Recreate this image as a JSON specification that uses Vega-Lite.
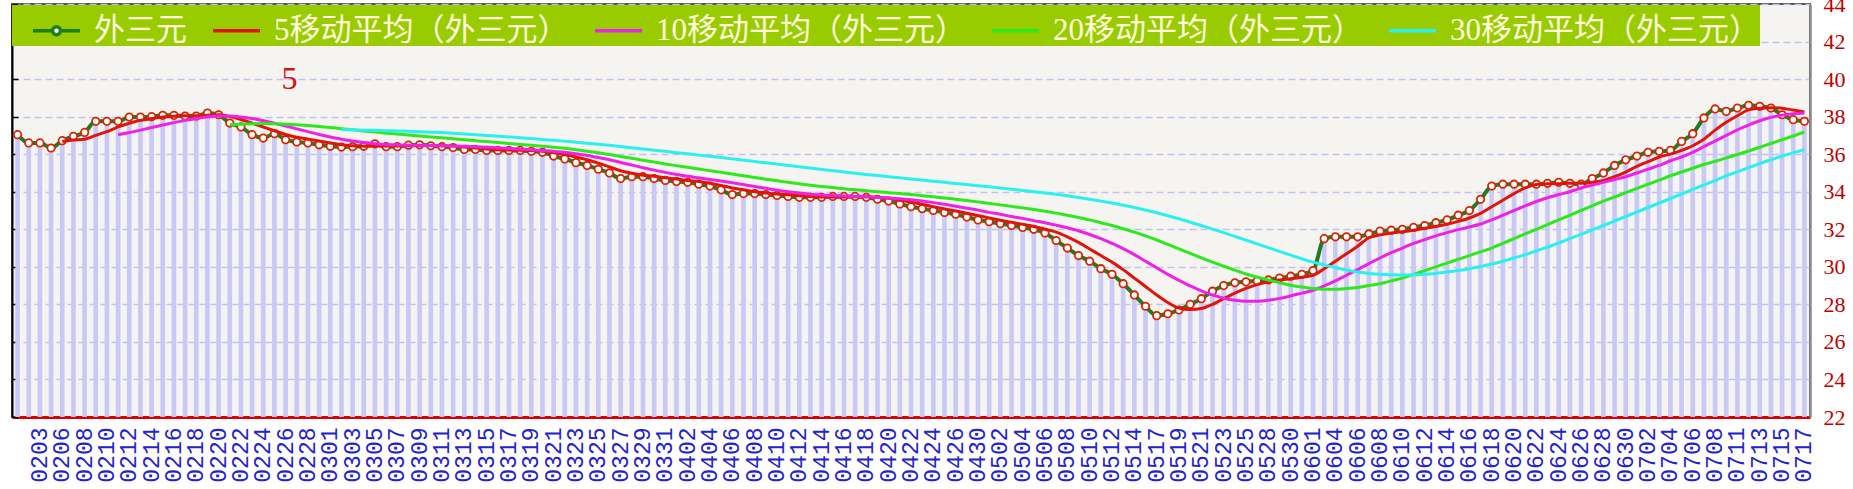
{
"$schema": "https://vega.github.io/schema/vega-lite/v6.json",
"width": 1798, "height": 413,
"autosize": {"type": "none"},
"padding": {"left": 12, "top": 4, "right": 43, "bottom": 72},
"background": "#ffffff",
"config": {"view": {"fill": "#f6f4f1", "stroke": "#555555", "strokeWidth": 2}},
"data": {"values": [
{"d":"0201","v":37.04},
{"d":"0202","v":36.6},
{"d":"0203","v":36.6},
{"d":"0205","v":36.33},
{"d":"0206","v":36.72,"m5":36.68},
{"d":"0207","v":36.95,"m5":36.75},
{"d":"0208","v":37.16,"m5":36.8},
{"d":"0209","v":37.75,"m5":37.0},
{"d":"0210","v":37.75,"m5":37.2},
{"d":"0211","v":37.75,"m5":37.45,"m10":37.04},
{"d":"0212","v":37.98,"m5":37.65,"m10":37.15},
{"d":"0213","v":37.98,"m5":37.8,"m10":37.28},
{"d":"0214","v":38.0,"m5":37.9,"m10":37.42},
{"d":"0215","v":38.07,"m5":37.98,"m10":37.55},
{"d":"0216","v":38.07,"m5":38.02,"m10":37.68},
{"d":"0217","v":38.03,"m5":38.05,"m10":37.8},
{"d":"0218","v":38.03,"m5":38.05,"m10":37.9},
{"d":"0219","v":38.19,"m5":38.08,"m10":37.98},
{"d":"0220","v":38.1,"m5":38.1,"m10":38.03},
{"d":"0221","v":37.66,"m5":38.0,"m10":38.03,"m20":37.57},
{"d":"0222","v":37.45,"m5":37.85,"m10":37.98,"m20":37.6},
{"d":"0223","v":37.04,"m5":37.65,"m10":37.9,"m20":37.62},
{"d":"0224","v":36.86,"m5":37.45,"m10":37.78,"m20":37.63},
{"d":"0225","v":37.09,"m5":37.25,"m10":37.65,"m20":37.62},
{"d":"0226","v":36.77,"m5":37.05,"m10":37.5,"m20":37.6},
{"d":"0227","v":36.65,"m5":36.9,"m10":37.35,"m20":37.57},
{"d":"0228","v":36.6,"m5":36.8,"m10":37.2,"m20":37.53},
{"d":"0229","v":36.5,"m5":36.7,"m10":37.05,"m20":37.48},
{"d":"0301","v":36.42,"m5":36.6,"m10":36.92,"m20":37.42},
{"d":"0302","v":36.38,"m5":36.5,"m10":36.8,"m20":37.36,"m30":37.31},
{"d":"0303","v":36.4,"m5":36.45,"m10":36.7,"m20":37.3,"m30":37.3},
{"d":"0304","v":36.42,"m5":36.42,"m10":36.62,"m20":37.24,"m30":37.28},
{"d":"0305","v":36.55,"m5":36.43,"m10":36.56,"m20":37.18,"m30":37.27},
{"d":"0306","v":36.4,"m5":36.43,"m10":36.52,"m20":37.12,"m30":37.25},
{"d":"0307","v":36.4,"m5":36.44,"m10":36.5,"m20":37.07,"m30":37.24},
{"d":"0308","v":36.48,"m5":36.45,"m10":36.48,"m20":37.02,"m30":37.22},
{"d":"0309","v":36.5,"m5":36.46,"m10":36.47,"m20":36.97,"m30":37.2},
{"d":"0310","v":36.45,"m5":36.46,"m10":36.46,"m20":36.92,"m30":37.17},
{"d":"0311","v":36.4,"m5":36.45,"m10":36.45,"m20":36.87,"m30":37.15},
{"d":"0312","v":36.35,"m5":36.43,"m10":36.44,"m20":36.82,"m30":37.12},
{"d":"0313","v":36.25,"m5":36.38,"m10":36.42,"m20":36.77,"m30":37.08},
{"d":"0314","v":36.25,"m5":36.33,"m10":36.4,"m20":36.72,"m30":37.04},
{"d":"0315","v":36.2,"m5":36.28,"m10":36.37,"m20":36.67,"m30":37.0},
{"d":"0316","v":36.2,"m5":36.24,"m10":36.33,"m20":36.62,"m30":36.96},
{"d":"0317","v":36.2,"m5":36.22,"m10":36.3,"m20":36.57,"m30":36.92},
{"d":"0318","v":36.2,"m5":36.21,"m10":36.27,"m20":36.52,"m30":36.88},
{"d":"0319","v":36.15,"m5":36.19,"m10":36.24,"m20":36.47,"m30":36.83},
{"d":"0320","v":36.1,"m5":36.15,"m10":36.2,"m20":36.42,"m30":36.78},
{"d":"0321","v":35.9,"m5":36.08,"m10":36.15,"m20":36.37,"m30":36.74},
{"d":"0322","v":35.75,"m5":35.98,"m10":36.1,"m20":36.31,"m30":36.69},
{"d":"0323","v":35.55,"m5":35.85,"m10":36.02,"m20":36.24,"m30":36.64},
{"d":"0324","v":35.4,"m5":35.7,"m10":35.93,"m20":36.16,"m30":36.58},
{"d":"0325","v":35.2,"m5":35.52,"m10":35.82,"m20":36.08,"m30":36.53},
{"d":"0326","v":35.0,"m5":35.32,"m10":35.7,"m20":35.98,"m30":36.47},
{"d":"0327","v":34.7,"m5":35.12,"m10":35.56,"m20":35.88,"m30":36.41},
{"d":"0328","v":34.8,"m5":34.98,"m10":35.42,"m20":35.78,"m30":36.34},
{"d":"0329","v":34.8,"m5":34.88,"m10":35.28,"m20":35.68,"m30":36.28},
{"d":"0330","v":34.7,"m5":34.82,"m10":35.15,"m20":35.58,"m30":36.21},
{"d":"0331","v":34.6,"m5":34.74,"m10":35.03,"m20":35.48,"m30":36.15},
{"d":"0401","v":34.55,"m5":34.68,"m10":34.92,"m20":35.39,"m30":36.08},
{"d":"0402","v":34.5,"m5":34.6,"m10":34.82,"m20":35.3,"m30":36.02},
{"d":"0403","v":34.4,"m5":34.55,"m10":34.74,"m20":35.21,"m30":35.95},
{"d":"0404","v":34.3,"m5":34.45,"m10":34.65,"m20":35.12,"m30":35.89},
{"d":"0405","v":34.1,"m5":34.33,"m10":34.57,"m20":35.03,"m30":35.82},
{"d":"0406","v":33.85,"m5":34.2,"m10":34.48,"m20":34.94,"m30":35.75},
{"d":"0407","v":33.9,"m5":34.1,"m10":34.38,"m20":34.85,"m30":35.68},
{"d":"0408","v":33.9,"m5":34.0,"m10":34.28,"m20":34.76,"m30":35.61},
{"d":"0409","v":33.85,"m5":33.93,"m10":34.18,"m20":34.67,"m30":35.54},
{"d":"0410","v":33.8,"m5":33.88,"m10":34.08,"m20":34.58,"m30":35.47},
{"d":"0411","v":33.75,"m5":33.84,"m10":34.0,"m20":34.5,"m30":35.4},
{"d":"0412","v":33.7,"m5":33.78,"m10":33.93,"m20":34.42,"m30":35.33},
{"d":"0413","v":33.7,"m5":33.74,"m10":33.87,"m20":34.35,"m30":35.26},
{"d":"0414","v":33.7,"m5":33.72,"m10":33.83,"m20":34.28,"m30":35.19},
{"d":"0415","v":33.75,"m5":33.72,"m10":33.8,"m20":34.22,"m30":35.12},
{"d":"0416","v":33.75,"m5":33.72,"m10":33.77,"m20":34.16,"m30":35.05},
{"d":"0417","v":33.75,"m5":33.73,"m10":33.75,"m20":34.1,"m30":34.98},
{"d":"0418","v":33.7,"m5":33.73,"m10":33.73,"m20":34.05,"m30":34.92},
{"d":"0419","v":33.6,"m5":33.7,"m10":33.7,"m20":34.0,"m30":34.86},
{"d":"0420","v":33.5,"m5":33.65,"m10":33.67,"m20":33.95,"m30":34.8},
{"d":"0421","v":33.35,"m5":33.55,"m10":33.63,"m20":33.9,"m30":34.74},
{"d":"0422","v":33.2,"m5":33.45,"m10":33.57,"m20":33.85,"m30":34.68},
{"d":"0423","v":33.1,"m5":33.33,"m10":33.5,"m20":33.79,"m30":34.62},
{"d":"0424","v":33.0,"m5":33.2,"m10":33.42,"m20":33.73,"m30":34.56},
{"d":"0425","v":32.9,"m5":33.08,"m10":33.33,"m20":33.67,"m30":34.5},
{"d":"0426","v":32.8,"m5":32.97,"m10":33.23,"m20":33.6,"m30":34.44},
{"d":"0428","v":32.65,"m5":32.85,"m10":33.12,"m20":33.53,"m30":34.38},
{"d":"0430","v":32.5,"m5":32.73,"m10":33.02,"m20":33.46,"m30":34.32},
{"d":"0501","v":32.4,"m5":32.6,"m10":32.9,"m20":33.38,"m30":34.26},
{"d":"0502","v":32.3,"m5":32.48,"m10":32.8,"m20":33.3,"m30":34.2},
{"d":"0503","v":32.2,"m5":32.37,"m10":32.68,"m20":33.22,"m30":34.13},
{"d":"0504","v":32.1,"m5":32.26,"m10":32.58,"m20":33.14,"m30":34.07},
{"d":"0505","v":32.0,"m5":32.15,"m10":32.46,"m20":33.05,"m30":34.0},
{"d":"0506","v":31.8,"m5":32.0,"m10":32.35,"m20":32.96,"m30":33.93},
{"d":"0507","v":31.4,"m5":31.85,"m10":32.22,"m20":32.86,"m30":33.86},
{"d":"0508","v":31.0,"m5":31.6,"m10":32.08,"m20":32.75,"m30":33.78},
{"d":"0509","v":30.6,"m5":31.3,"m10":31.92,"m20":32.63,"m30":33.69},
{"d":"0510","v":30.3,"m5":30.95,"m10":31.72,"m20":32.5,"m30":33.6},
{"d":"0511","v":29.9,"m5":30.6,"m10":31.5,"m20":32.35,"m30":33.5},
{"d":"0512","v":29.6,"m5":30.25,"m10":31.25,"m20":32.2,"m30":33.4},
{"d":"0513","v":29.1,"m5":29.85,"m10":30.97,"m20":32.03,"m30":33.28},
{"d":"0514","v":28.5,"m5":29.4,"m10":30.65,"m20":31.85,"m30":33.16},
{"d":"0515","v":27.9,"m5":28.95,"m10":30.3,"m20":31.65,"m30":33.02},
{"d":"0517","v":27.4,"m5":28.5,"m10":29.95,"m20":31.43,"m30":32.88},
{"d":"0518","v":27.5,"m5":28.1,"m10":29.6,"m20":31.2,"m30":32.72},
{"d":"0519","v":27.7,"m5":27.8,"m10":29.28,"m20":30.96,"m30":32.56},
{"d":"0520","v":28.0,"m5":27.72,"m10":28.98,"m20":30.72,"m30":32.38},
{"d":"0521","v":28.3,"m5":27.78,"m10":28.72,"m20":30.48,"m30":32.2},
{"d":"0522","v":28.7,"m5":28.0,"m10":28.5,"m20":30.25,"m30":32.01},
{"d":"0523","v":29.0,"m5":28.3,"m10":28.33,"m20":30.03,"m30":31.82},
{"d":"0524","v":29.15,"m5":28.6,"m10":28.22,"m20":29.82,"m30":31.62},
{"d":"0525","v":29.2,"m5":28.85,"m10":28.17,"m20":29.62,"m30":31.42},
{"d":"0526","v":29.25,"m5":29.05,"m10":28.17,"m20":29.45,"m30":31.22},
{"d":"0528","v":29.3,"m5":29.2,"m10":28.22,"m20":29.3,"m30":31.02},
{"d":"0529","v":29.4,"m5":29.3,"m10":28.32,"m20":29.15,"m30":30.82},
{"d":"0530","v":29.5,"m5":29.37,"m10":28.45,"m20":29.02,"m30":30.62},
{"d":"0531","v":29.6,"m5":29.45,"m10":28.6,"m20":28.92,"m30":30.43},
{"d":"0601","v":29.8,"m5":29.55,"m10":28.75,"m20":28.84,"m30":30.25},
{"d":"0602","v":31.5,"m5":29.9,"m10":28.98,"m20":28.8,"m30":30.1},
{"d":"0604","v":31.6,"m5":30.3,"m10":29.25,"m20":28.8,"m30":29.95},
{"d":"0605","v":31.6,"m5":30.7,"m10":29.55,"m20":28.84,"m30":29.83},
{"d":"0606","v":31.6,"m5":31.1,"m10":29.85,"m20":28.9,"m30":29.72},
{"d":"0607","v":31.75,"m5":31.55,"m10":30.17,"m20":29.0,"m30":29.65},
{"d":"0608","v":31.9,"m5":31.7,"m10":30.47,"m20":29.1,"m30":29.6},
{"d":"0609","v":31.95,"m5":31.8,"m10":30.75,"m20":29.25,"m30":29.58},
{"d":"0610","v":32.0,"m5":31.87,"m10":31.0,"m20":29.4,"m30":29.57},
{"d":"0611","v":32.1,"m5":31.95,"m10":31.25,"m20":29.6,"m30":29.58},
{"d":"0612","v":32.2,"m5":32.05,"m10":31.45,"m20":29.8,"m30":29.6},
{"d":"0613","v":32.35,"m5":32.15,"m10":31.65,"m20":30.0,"m30":29.65},
{"d":"0614","v":32.5,"m5":32.27,"m10":31.82,"m20":30.2,"m30":29.72},
{"d":"0615","v":32.75,"m5":32.42,"m10":31.98,"m20":30.4,"m30":29.8},
{"d":"0616","v":33.0,"m5":32.6,"m10":32.12,"m20":30.6,"m30":29.9},
{"d":"0617","v":33.6,"m5":32.85,"m10":32.28,"m20":30.8,"m30":30.02},
{"d":"0618","v":34.3,"m5":33.2,"m10":32.5,"m20":31.0,"m30":30.15},
{"d":"0619","v":34.4,"m5":33.55,"m10":32.75,"m20":31.25,"m30":30.3},
{"d":"0620","v":34.4,"m5":33.9,"m10":33.0,"m20":31.5,"m30":30.47},
{"d":"0621","v":34.4,"m5":34.2,"m10":33.25,"m20":31.75,"m30":30.65},
{"d":"0622","v":34.4,"m5":34.38,"m10":33.48,"m20":32.0,"m30":30.85},
{"d":"0623","v":34.45,"m5":34.42,"m10":33.68,"m20":32.25,"m30":31.05},
{"d":"0624","v":34.5,"m5":34.43,"m10":33.85,"m20":32.5,"m30":31.27},
{"d":"0625","v":34.45,"m5":34.45,"m10":34.0,"m20":32.75,"m30":31.5},
{"d":"0626","v":34.4,"m5":34.45,"m10":34.2,"m20":33.0,"m30":31.73},
{"d":"0627","v":34.7,"m5":34.5,"m10":34.35,"m20":33.25,"m30":31.97},
{"d":"0628","v":35.0,"m5":34.6,"m10":34.5,"m20":33.5,"m30":32.2},
{"d":"0629","v":35.4,"m5":34.8,"m10":34.65,"m20":33.72,"m30":32.44},
{"d":"0630","v":35.7,"m5":35.05,"m10":34.8,"m20":33.95,"m30":32.68},
{"d":"0701","v":35.9,"m5":35.35,"m10":35.0,"m20":34.18,"m30":32.92},
{"d":"0702","v":36.1,"m5":35.6,"m10":35.2,"m20":34.4,"m30":33.16},
{"d":"0703","v":36.15,"m5":35.85,"m10":35.4,"m20":34.62,"m30":33.4},
{"d":"0704","v":36.2,"m5":36.0,"m10":35.65,"m20":34.85,"m30":33.64},
{"d":"0705","v":36.68,"m5":36.2,"m10":35.85,"m20":35.05,"m30":33.88},
{"d":"0706","v":37.09,"m5":36.45,"m10":36.1,"m20":35.25,"m30":34.12},
{"d":"0707","v":37.93,"m5":36.8,"m10":36.4,"m20":35.45,"m30":34.36},
{"d":"0708","v":38.41,"m5":37.28,"m10":36.7,"m20":35.62,"m30":34.6},
{"d":"0709","v":38.28,"m5":37.7,"m10":37.0,"m20":35.8,"m30":34.84},
{"d":"0711","v":38.46,"m5":38.05,"m10":37.3,"m20":35.98,"m30":35.06},
{"d":"0712","v":38.6,"m5":38.36,"m10":37.55,"m20":36.17,"m30":35.28},
{"d":"0713","v":38.55,"m5":38.45,"m10":37.78,"m20":36.37,"m30":35.5},
{"d":"0714","v":38.46,"m5":38.48,"m10":37.96,"m20":36.57,"m30":35.7},
{"d":"0715","v":38.1,"m5":38.45,"m10":38.08,"m20":36.77,"m30":35.9},
{"d":"0716","v":37.84,"m5":38.35,"m10":38.15,"m20":36.97,"m30":36.07},
{"d":"0717","v":37.75,"m5":38.25,"m10":38.19,"m20":37.18,"m30":36.24}
]},
"resolve": {"axis": {"y": "independent"}, "scale": {"y": "shared"}},
"layer": [
{
"mark": {"type": "bar", "color": "#c9c9f7", "width": {"band": 0.42}},
"encoding": {
"x": {"field": "d", "type": "ordinal", "sort": null, "title": null,
"scale": {"type": "band", "paddingInner": 0, "paddingOuter": 0},
"axis": {"orient": "bottom", "labelAngle": -90, "labelOverlap": false, "labelColor": "#2424cc", "labelFont": "Liberation Mono", "labelFontSize": 23, "labelPadding": 17, "domainColor": "#dd0000", "domainWidth": 3, "tickColor": "#dd0000", "tickWidth": 2, "tickSize": -7, "grid": false,
"values": ["0201","0203","0206","0208","0210","0212","0214","0216","0218","0220","0222","0224","0226","0228","0301","0303","0305","0307","0309","0311","0313","0315","0317","0319","0321","0323","0325","0327","0329","0331","0402","0404","0406","0408","0410","0412","0414","0416","0418","0420","0422","0424","0426","0430","0502","0504","0506","0508","0510","0512","0514","0517","0519","0521","0523","0525","0528","0530","0601","0604","0606","0608","0610","0612","0614","0616","0618","0620","0622","0624","0626","0628","0630","0702","0704","0706","0708","0711","0713","0715","0717"]}},
"y": {"field": "v", "type": "quantitative", "title": null,
"scale": {"domain": [22, 44], "zero": false, "nice": false},
"axis": {"orient": "left", "values": [22,24,26,28,30,32,34,36,38,40,42,44], "labels": false, "grid": true, "gridColor": "#c2c2f0", "gridDash": [7, 4], "gridWidth": 1.5, "domainColor": "#000000", "domainWidth": 2, "tickColor": "#000000", "tickWidth": 1.5, "tickSize": -6}},
"y2": {"datum": 22}
}
},
{
"mark": {"type": "line", "strokeWidth": 4, "interpolate": "monotone"},
"encoding": {
"x": {"field": "d", "type": "ordinal", "sort": null, "title": null},
"y": {"field": "v", "type": "quantitative", "title": null,
"axis": {"orient": "right", "values": [22,24,26,28,30,32,34,36,38,40,42,44], "grid": false, "ticks": false, "domainColor": "#8a8a8a", "domainWidth": 2.5, "labelColor": "#c00000", "labelFont": "Liberation Serif", "labelFontSize": 22, "labelPadding": 13}},
"color": {"datum": "main", "type": "nominal"}
}
},
{
"mark": {"type": "point", "shape": "circle", "size": 55, "filled": true, "fill": "#ffffff", "stroke": "#dd2200", "strokeWidth": 1.8, "opacity": 1},
"encoding": {
"x": {"field": "d", "type": "ordinal", "sort": null, "title": null},
"y": {"field": "v", "type": "quantitative", "title": null, "axis": null}
}
},
{
"transform": [{"fold": ["m5", "m10", "m20", "m30"], "as": ["s", "val"]}],
"mark": {"type": "line", "strokeWidth": 3, "interpolate": "monotone"},
"encoding": {
"x": {"field": "d", "type": "ordinal", "sort": null, "title": null},
"y": {"field": "val", "type": "quantitative", "title": null, "axis": null},
"color": {"field": "s", "type": "nominal",
"scale": {"domain": ["main", "m5", "m10", "m20", "m30"], "range": ["#1e7d1e", "#e0140a", "#ee22e6", "#2ee81e", "#2af0f0"]},
"legend": {"orient": "none", "legendX": 0, "legendY": 1, "direction": "horizontal",
"title": "\u00a0", "titleOrient": "left", "titleFontSize": 6, "titlePadding": 19,
"fillColor": "#99cc00", "padding": 0,
"labelFont": "Liberation Serif, Noto Sans CJK SC", "labelFontSize": 31, "labelColor": "#ffffdd", "labelLimit": 700, "labelOffset": 12,
"symbolType": "stroke", "symbolSize": 2209, "symbolStrokeWidth": 3.5, "columnPadding": 19,
"labelExpr": "datum.label == 'main' ? '外三元' : datum.label == 'm5' ? '5移动平均（外三元）' : datum.label == 'm10' ? '10移动平均（外三元）' : datum.label == 'm20' ? '20移动平均（外三元）' : '30移动平均（外三元）\u3000'",
"encode": {"symbols": {"update": {
"shape": {"signal": "datum.value === 'main' ? 'M-1,0H-0.2M0.2,0H1M0.17,0A0.17,0.17,0,1,1,-0.17,0A0.17,0.17,0,1,1,0.17,0Z' : 'stroke'"},
"fill": {"signal": "datum.value === 'main' ? '#ffffff' : 'transparent'"}}}}
}
}
}
},
{
"data": {"values": [{"d": "0226", "v": 40, "t": "5"}]},
"mark": {"type": "text", "font": "Liberation Serif", "fontSize": 32, "color": "#d81010", "dx": 4, "baseline": "middle"},
"encoding": {
"x": {"field": "d", "type": "ordinal", "sort": null, "title": null},
"y": {"field": "v", "type": "quantitative", "title": null, "axis": null},
"text": {"field": "t"}
}
}
]
}
